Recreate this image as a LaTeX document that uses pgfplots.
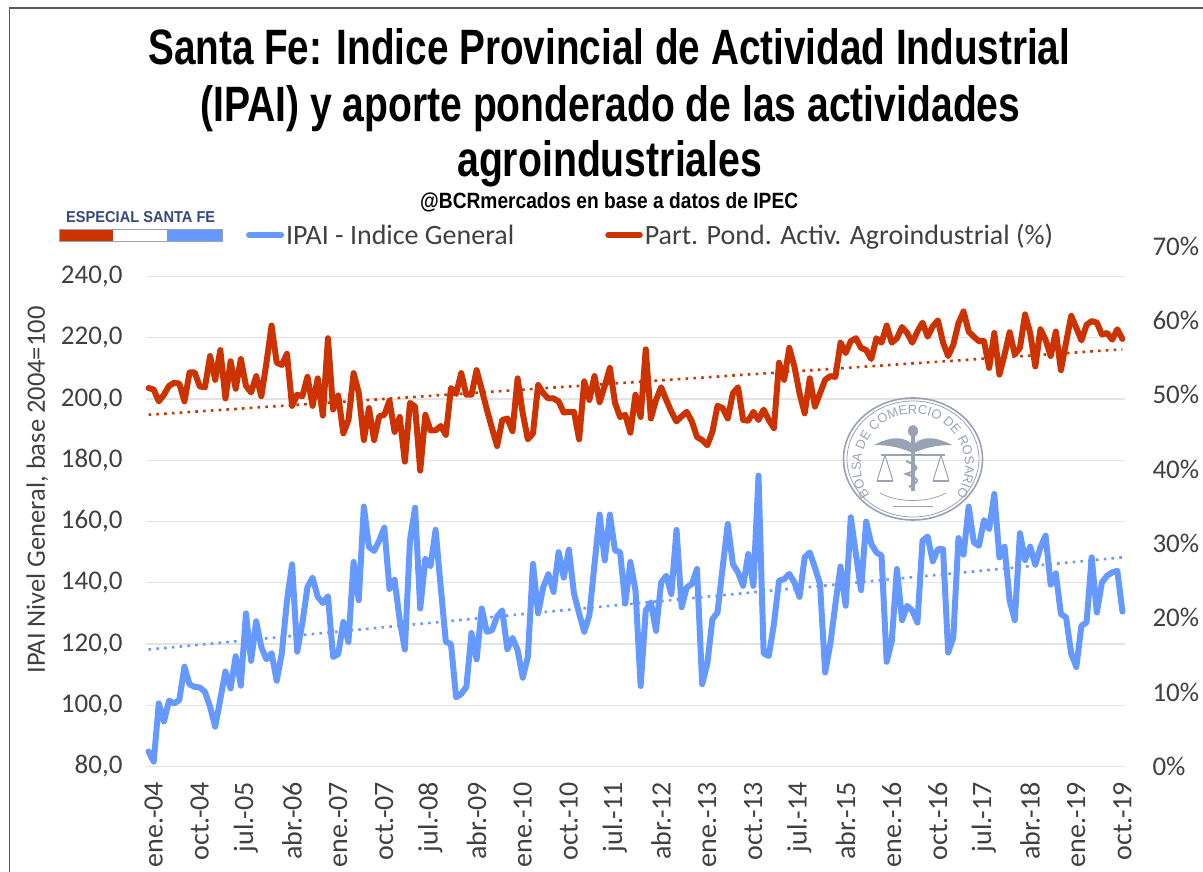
\documentclass[border=0pt]{standalone}
\usepackage{fontspec}
\usepackage{graphicx}
\usepackage{pgfplots}
\pgfplotsset{compat=1.18}
\usetikzlibrary{decorations.text}
\setmainfont{Carlito}
\newfontfamily\tfont{Liberation Sans}
\definecolor{bl}{HTML}{6699FF}
\definecolor{rd}{HTML}{CC3300}
\definecolor{tx}{HTML}{404040}
\definecolor{sl}{HTML}{98A2B3}
\begin{document}
\begin{tikzpicture}[x=1pt,y=1pt]
\path[use as bounding box] (0,0) rectangle (1203,872);
\draw[color=black!65,line width=1.6pt] (1203,864) -- (9.5,864) -- (9.5,0);
% titles
\node[anchor=base west,inner sep=0] at (148,807) {\resizebox{922pt}{36pt}{\tfont\bfseries Santa Fe: Indice Provincial de Actividad Industrial}};
\node[anchor=base west,inner sep=0] at (200,750) {\resizebox{820pt}{36pt}{\tfont\bfseries (IPAI) y aporte ponderado de las actividades}};
\node[anchor=base west,inner sep=0] at (457,695) {\resizebox{305pt}{36pt}{\tfont\bfseries agroindustriales}};
\node[anchor=base west,inner sep=0] at (420,663) {\resizebox{378pt}{16pt}{\tfont\bfseries @BCRmercados en base a datos de IPEC}};
% badge
\node[anchor=base west,inner sep=0] at (66,649) {\resizebox{149pt}{11pt}{\tfont\bfseries\color[HTML]{33497A} ESPECIAL SANTA FE}};
\fill[rd] (59,631) rectangle (113,643);
\fill[white] (113,631) rectangle (167,643);
\fill[bl] (167,631) rectangle (222,643);
\draw[color=sl,line width=0.8pt] (59,631) rectangle (222,643);
\begin{axis}[
  at={(146pt,105.5pt)},anchor=south west,scale only axis,
  width=979pt,height=520.5pt,
  xmin=-0.5,xmax=190.5,ymin=80,ymax=250,
  axis line style={draw=none},
  major tick length=0pt,
  ytick={80,100,...,240},
  ymajorgrids,
  grid style={color=black!11,line width=1.3pt},
  xtick={0,9,...,189},
  xticklabels={ene.-04,oct.-04,jul.-05,abr.-06,ene.-07,oct.-07,jul.-08,abr.-09,ene.-10,oct.-10,jul.-11,abr.-12,ene.-13,oct.-13,jul.-14,abr.-15,ene.-16,oct.-16,jul.-17,abr.-18,ene.-19,oct.-19},
  xticklabel style={rotate=90,anchor=east,xshift=-12pt,yshift=-5pt,font=\fontsize{28}{30}\selectfont,text=tx},
  yticklabel style={font=\fontsize{27}{30}\selectfont,text=tx,xshift=-20pt,
    /pgf/number format/.cd,fixed,fixed zerofill,precision=1,use comma,1000 sep={},assume math mode=true},
  every axis y label/.style={at={(axis description cs:-0.111,0.531)},rotate=90,anchor=center},
  ylabel={\fontsize{26.5}{28}\selectfont\color{tx} IPAI Nivel General, base 2004=100},
  clip=false,
  legend style={at={(0.102,1.021)},anchor=west,draw=none,fill=none,inner sep=0pt,
    font=\fontsize{28}{30}\selectfont,text=tx,
    /tikz/every even column/.append style={column sep=89pt}},
  legend columns=2,
  legend image code/.code={\draw[#1] (0pt,0pt) -- (32pt,0pt);},
]
\addplot[bl,line width=6pt,line join=round,line cap=round] coordinates {
(0,84.9)(1,81.6)(2,100.6)(3,94.7)(4,101.5)(5,100.6)(6,101.7)(7,112.6)(8,106.8)(9,106)
(10,105.8)(11,104.4)(12,99.5)(13,93)(14,102)(15,111)(16,105.5)(17,116)(18,106.4)(19,130)
(20,114.5)(21,127.4)(22,119)(23,115)(24,117)(25,108)(26,117)(27,134)(28,146)(29,117.5)
(30,126.7)(31,138.6)(32,141.7)(33,135.4)(34,133.4)(35,135.6)(36,115.8)(37,116.7)(38,127.2)(39,120.7)
(40,146.8)(41,134.3)(42,164.9)(43,151.7)(44,150.4)(45,153.8)(46,158)(47,138)(48,141)(49,127.8)
(50,118.2)(51,153.8)(52,164.5)(53,131.6)(54,147.9)(55,145.4)(56,157.3)(57,138.6)(58,120.7)(59,120)
(60,102.6)(61,103.7)(62,106)(63,123.6)(64,115)(65,131.6)(66,124)(67,124.5)(68,129)(69,131)
(70,118.3)(71,122)(72,118)(73,109)(74,115.8)(75,146.2)(76,130)(77,138.6)(78,142.8)(79,137)
(80,150)(81,141.7)(82,150.8)(83,136.5)(84,130)(85,124)(86,129.4)(87,146)(88,162.3)(89,147.3)
(90,162.3)(91,150.6)(92,150)(93,133.2)(94,146.8)(95,137.5)(96,106.3)(97,130.9)(98,133.6)(99,124.3)
(100,140.1)(101,142.3)(102,136.3)(103,157.3)(104,132)(105,138.5)(106,139.6)(107,144.5)(108,106.9)(109,113.4)
(110,128.1)(111,130.3)(112,145)(113,159.2)(114,146.1)(115,143.4)(116,139)(117,149.4)(118,139)(119,175)
(120,116.9)(121,116.1)(122,126.5)(123,140.7)(124,141.2)(125,142.9)(126,140.1)(127,135.4)(128,148.3)(129,149.9)
(130,145)(131,139.6)(132,110.7)(133,120)(134,133)(135,145.3)(136,132.5)(137,161.4)(138,149.4)(139,137.6)
(140,160)(141,152.7)(142,149.9)(143,148.9)(144,114.2)(145,121)(146,144.5)(147,127.8)(148,132.5)(149,130.9)
(150,127)(151,153.8)(152,155.1)(153,147)(154,151)(155,151)(156,117.2)(157,122.1)(158,154.6)(159,149.2)
(160,164.9)(161,153.2)(162,152.1)(163,160.5)(164,157.6)(165,169)(166,148.3)(167,151.8)(168,134.1)(169,127.8)
(170,156.2)(171,147.4)(172,151.8)(173,145.9)(174,151.6)(175,155.4)(176,139.4)(177,143.1)(178,129.8)(179,128.7)
(180,116.9)(181,112.5)(182,126)(183,127)(184,148.3)(185,130.3)(186,140.1)(187,142.3)(188,143.4)(189,143.9)
(190,130.6)};
\addlegendentry{IPAI - Indice General}
\addplot[bl,line width=2.6pt,dash pattern=on 2.6pt off 5.2pt,forget plot] coordinates {(0,118.2)(190,148.3)};
\addlegendimage{rd,line width=5.5pt,line cap=round}
\addlegendentry{Part. Pond. Activ. Agroindustrial (\%)}
\end{axis}
\begin{axis}[
  at={(146pt,105.5pt)},anchor=south west,scale only axis,
  width=979pt,height=520.5pt,
  xmin=-0.5,xmax=190.5,ymin=0,ymax=70,
  axis x line=none,
  axis y line*=right,
  axis line style={draw=none},
  major tick length=0pt,
  ytick={0,10,...,70},
  clip=false,
  yticklabel={\pgfmathprintnumber{\tick}\%},
  yticklabel style={font=\fontsize{27}{30}\selectfont,text=tx,anchor=west,xshift=24pt,
    /pgf/number format/.cd,fixed,precision=0,assume math mode=true},
]
\addplot[rd,line width=6pt,line join=round,line cap=round] coordinates {
(0,50.9)(1,50.7)(2,49.1)(3,50)(4,51.2)(5,51.6)(6,51.5)(7,49.1)(8,53)(9,53)
(10,51.1)(11,51)(12,55.2)(13,52)(14,56)(15,49.5)(16,54.5)(17,50.8)(18,54.8)(19,51.2)
(20,50.3)(21,52.5)(22,49.8)(23,54.3)(24,59.3)(25,54.3)(26,54)(27,55.5)(28,48.5)(29,50)
(30,49.8)(31,52.4)(32,48.5)(33,52.2)(34,47.2)(35,57.6)(36,48)(37,49.9)(38,44.8)(39,46.6)
(40,52.9)(41,50.3)(42,43.9)(43,48.2)(44,43.9)(45,47.1)(46,47.3)(47,49.2)(48,45)(49,47)
(50,41)(51,48.9)(52,48.4)(53,39.8)(54,47.3)(55,45.2)(56,45.2)(57,45.8)(58,44.6)(59,50.9)
(60,50.1)(61,52.9)(62,50)(63,50)(64,53.3)(65,50.7)(66,48)(67,45.5)(68,43.1)(69,46.6)
(70,46.8)(71,45.1)(72,52.2)(73,47.5)(74,44)(75,44.8)(76,51.3)(77,50.2)(78,49.5)(79,49.5)
(80,49.1)(81,47.6)(82,47.7)(83,47.7)(84,44)(85,51.8)(86,49.3)(87,52.5)(88,49)(89,51.2)
(90,53.6)(91,48.9)(92,47)(93,47.3)(94,44.9)(95,50)(96,47)(97,56.1)(98,46.8)(99,49.3)
(100,51)(101,49.3)(102,47.7)(103,46.4)(104,47.1)(105,47.7)(106,46.4)(107,44.3)(108,43.9)(109,43.2)
(110,45)(111,48.5)(112,48.2)(113,46.8)(114,50.2)(115,51)(116,46.6)(117,46.5)(118,47.7)(119,46.6)
(120,48)(121,46.6)(122,45.5)(123,54.3)(124,52)(125,56.3)(126,53.8)(127,50.2)(128,47.5)(129,52.2)
(130,48.4)(131,50.2)(132,52)(133,52.5)(134,52.4)(135,57)(136,55.6)(137,57.2)(138,57.6)(139,56.3)
(140,56)(141,54.8)(142,57.6)(143,57)(144,59.3)(145,57)(146,57.6)(147,59.1)(148,58.3)(149,57)
(150,58.5)(151,59.7)(152,57.8)(153,59.2)(154,60)(155,57)(156,55.2)(157,56.7)(158,59.6)(159,61.2)
(160,58.5)(161,57.8)(162,57.2)(163,57.2)(164,53.6)(165,58.3)(166,52.7)(167,55.4)(168,58.4)(169,55.4)
(170,56.3)(171,60.8)(172,58.3)(173,53.8)(174,58.8)(175,57.4)(176,55.2)(177,58.5)(178,53.3)(179,57)
(180,60.6)(181,59)(182,57.3)(183,59.4)(184,59.9)(185,59.7)(186,58.1)(187,58.3)(188,57.4)(189,58.8)
(190,57.5)};
\addplot[rd,line width=2.6pt,dash pattern=on 2.6pt off 5.2pt] coordinates {(0,47.3)(190,56.1)};
\end{axis}
% seal
\begin{scope}[shift={(913,413)},color=sl]
\draw[line width=1.6pt] (0,0) ellipse [x radius=69.5,y radius=61];
\draw[line width=0.8pt] (0,0) ellipse [x radius=66,y radius=58];
\draw[line width=0.8pt] (-33,-34) .. controls (-15,-44) and (15,-44) .. (33,-34);
\draw[line width=1pt] (-20,-48) -- (20,-48);
\path[decorate,decoration={text along path,text align={align=center},
  text={|\tfont\fontsize{13}{15}\selectfont\color{sl}|BOLSA DE COMERCIO DE ROSARIO}}]
  (-40,-40) .. controls (-68,-8) and (-45,45) .. (0,45) .. controls (45,45) and (68,-8) .. (40,-40);
\draw[line width=3.5pt] (0,-32) -- (0,28);
\fill (0,28) circle [x radius=5,y radius=6];
\fill (-39,14) .. controls (-20,24) and (-8,22) .. (0,14) .. controls (8,22) and (20,24) .. (39,14) .. controls (20,14) and (10,10) .. (0,6) .. controls (-10,10) and (-20,14) .. (-39,14) -- cycle;
\draw[line width=1.4pt] (-32,4) -- (32,4);
\draw[line width=1pt] (-28,4) -- (-36,-22) (-28,4) -- (-20,-22) (28,4) -- (20,-22) (28,4) -- (36,-22);
\draw[line width=2.5pt] (-36,-22) -- (-20,-22) (20,-22) -- (36,-22);
\draw[line width=2pt] (-7,-2) .. controls (7,-8) and (7,-10) .. (-7,-15) .. controls (7,-20) and (7,-22) .. (-4,-28);
\end{scope}
\end{tikzpicture}
\end{document}
